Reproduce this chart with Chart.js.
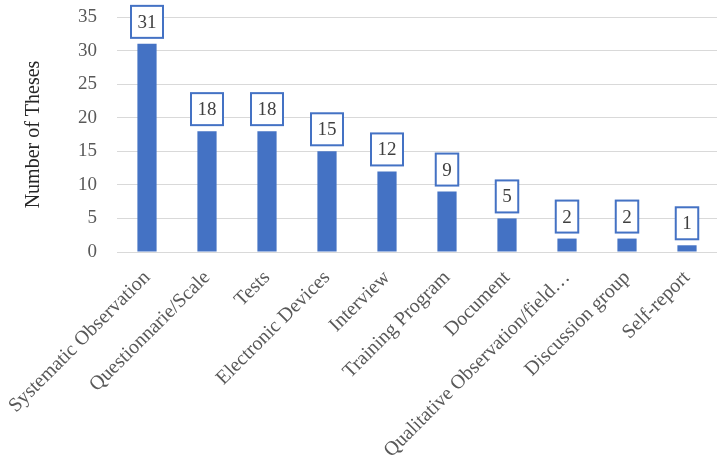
<!DOCTYPE html>
<html>
<head>
<meta charset="utf-8">
<script src="https://cdn.jsdelivr.net/npm/chart.js@4"></script>
<style>
  body { margin: 0; background: #fff; }
  #wrap { width: 727px; height: 456px; }
</style>
</head>
<body>
<div id="wrap"><canvas id="thesesChart" width="727" height="456"></canvas></div>
<script>
var categories = ["Systematic Observation", "Questionnarie/Scale", "Tests", "Electronic Devices",
  "Interview", "Training Program", "Document", "Qualitative Observation/field\u2026",
  "Discussion group", "Self-report"];
var theses = [31, 18, 18, 15, 12, 9, 5, 2, 2, 1];
var yTicks = [0, 5, 10, 15, 20, 25, 30, 35];

var serif = "'Liberation Serif', 'DejaVu Serif', serif";

// draws the boxed value above every bar
var boxLabels = {
  id: "boxLabels",
  afterDatasetsDraw: function(chart) {
    var ctx = chart.ctx;
    var meta = chart.getDatasetMeta(0);
    ctx.save();
    ctx.font = "19px " + serif;
    ctx.textAlign = "center";
    ctx.textBaseline = "middle";
    meta.data.forEach(function(bar, i) {
      var txt = String(chart.data.datasets[0].data[i]);
      var w = ctx.measureText(txt).width + 13;
      var h = 32;
      var bottom = bar.y - 6;
      ctx.fillStyle = "#fff";
      ctx.fillRect(bar.x - w / 2, bottom - h, w, h);
      ctx.strokeStyle = "#4472C4";
      ctx.lineWidth = 2;
      ctx.strokeRect(bar.x - w / 2, bottom - h, w, h);
      ctx.fillStyle = "#404040";
      ctx.fillText(txt, bar.x, bottom - h / 2 + 1);
    });
    ctx.restore();
  }
};

var chart = new Chart("thesesChart", {
  type: "bar",
  data: {
    labels: categories,
    datasets: [{
      label: "Number of Theses",
      data: theses,
      backgroundColor: "#4472C4",
      barPercentage: 0.32,
      categoryPercentage: 1.0
    }]
  },
  options: {
    responsive: false,
    animation: false,
    layout: { padding: { top: 17, right: 10, left: 0, bottom: 0 } },
    plugins: {
      legend: { display: false },
      tooltip: { enabled: false }
    },
    scales: {
      x: {
        grid: { display: false },
        border: { display: false },
        ticks: {
          color: "#595959",
          font: { family: serif, size: 20 },
          minRotation: 45,
          maxRotation: 45,
          padding: 6,
          autoSkip: false
        },
        afterFit: function(scale) {
          scale.height = 204;
          scale.paddingTop = 0;
          scale.paddingBottom = 0;
        }
      },
      y: {
        min: 0,
        max: 35,
        afterBuildTicks: function(scale) {
          scale.ticks = yTicks.map(function(v) { return { value: v }; });
        },
        grid: { color: "#d9d9d9", lineWidth: 1, drawTicks: false },
        border: { display: false },
        ticks: {
          color: "#595959",
          font: { family: serif, size: 19 },
          padding: 20
        },
        title: {
          display: true,
          text: "Number of Theses",
          color: "#262626",
          font: { family: serif, size: 20 },
          padding: { top: 22, bottom: 0 }
        },
        afterFit: function(scale) {
          scale.width = 117;
          scale.paddingTop = 0;
          scale.paddingBottom = 0;
        }
      }
    }
  },
  plugins: [boxLabels]
});
</script>
</body>
</html>
